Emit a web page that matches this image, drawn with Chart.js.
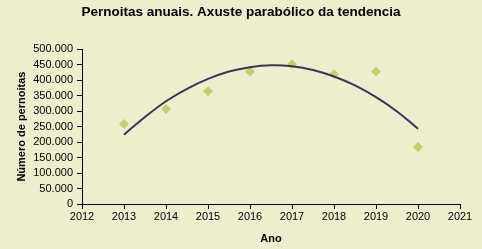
<!DOCTYPE html>
<html>
<head>
<meta charset="utf-8">
<script src="https://cdn.jsdelivr.net/npm/chart.js@4"></script>
<style>
  html, body { margin: 0; padding: 0; background: rgb(237, 238, 206); }
  #wrap { width: 482px; height: 249px; }
</style>
</head>
<body>
<div id="wrap"><canvas id="pernoitasChart" width="482" height="249"></canvas></div>
<script>
// observed yearly values
const years = [2013, 2014, 2015, 2016, 2017, 2018, 2019, 2020];
const pernoitas = [258000, 307000, 364000, 428000, 451000, 419000, 428000, 184000];

// parabolic trend line
const trendYears = [2013, 2013.5, 2014, 2014.5, 2015, 2015.5, 2016, 2016.5, 2017, 2017.5, 2018, 2018.5, 2019, 2019.5, 2020];
const trendValues = [224000, 281000, 332000, 372000, 404000, 428000, 442000, 448000, 445000, 433000, 412000, 383000, 345000, 299000, 243000];

const fontFamily = '"Liberation Sans", Arial, sans-serif';

function formatThousands(v) {
    return String(v).replace(/\B(?=(\d{3})+(?!\d))/g, '.');
}

// center the title on the whole canvas, not on the padded area
const titleOnCanvas = {
    id: 'titleOnCanvas',
    afterLayout(chart) {
        const t = chart.titleBlock;
        if (t) {
            t.left = 0;
            t.right = chart.width;
            t.width = chart.width;
        }
    }
};

const ctx = document.getElementById("pernoitasChart").getContext("2d");

new Chart(ctx, {
    type: 'scatter',
    data: {
        datasets: [
            {
                type: 'line',
                label: 'Tendencia',
                data: trendYears.map((x, i) => ({ x: x, y: trendValues[i] })),
                borderColor: 'rgb(64, 48, 92)',
                borderWidth: 2,
                pointRadius: 0,
                tension: 0.4,
                fill: false
            },
            {
                label: 'Pernoitas',
                data: years.map((x, i) => ({ x: x, y: pernoitas[i] })),
                pointStyle: 'rectRot',
                pointRadius: 5,
                backgroundColor: 'rgb(200, 204, 110)',
                borderColor: 'rgb(200, 204, 110)',
                borderWidth: 0
            }
        ]
    },
    options: {
        responsive: false,
        animation: false,
        layout: { padding: { left: 0, right: 22, top: 0, bottom: 0 } },
        plugins: {
            legend: { display: false },
            tooltip: { enabled: false },
            title: {
                display: true,
                text: 'Pernoitas anuais. Axuste parabólico da tendencia',
                color: '#000',
                font: { family: fontFamily, size: 13.5, weight: 'bold' },
                padding: { top: 4, bottom: 29 }
            }
        },
        scales: {
            x: {
                type: 'linear',
                min: 2012,
                max: 2021,
                afterFit: s => { s.height = 45; },
                ticks: {
                    stepSize: 1,
                    autoSkip: false,
                    color: '#000',
                    padding: 1,
                    maxRotation: 0,
                    font: { family: fontFamily, size: 11 },
                    callback: v => String(v)
                },
                grid: { drawOnChartArea: false, drawTicks: true, tickLength: 5, color: '#000' },
                border: { display: true, color: '#000', width: 1 },
                title: {
                    display: true,
                    text: 'Ano',
                    color: '#000',
                    font: { family: fontFamily, size: 11, weight: 'bold' },
                    padding: { top: 0, bottom: 3 }
                }
            },
            y: {
                min: 0,
                max: 500000,
                afterFit: s => { s.width = 82; },
                ticks: {
                    stepSize: 50000,
                    autoSkip: false,
                    color: '#000',
                    padding: 4,
                    font: { family: fontFamily, size: 11 },
                    callback: v => formatThousands(v)
                },
                grid: { drawOnChartArea: false, drawTicks: true, tickLength: 5, color: '#000' },
                border: { display: true, color: '#000', width: 1 },
                title: {
                    display: true,
                    text: 'Número de pernoitas',
                    color: '#000',
                    font: { family: fontFamily, size: 11, weight: 'bold' },
                    padding: { top: 15, bottom: 0 }
                }
            }
        }
    },
    plugins: [titleOnCanvas]
});
</script>
</body>
</html>
